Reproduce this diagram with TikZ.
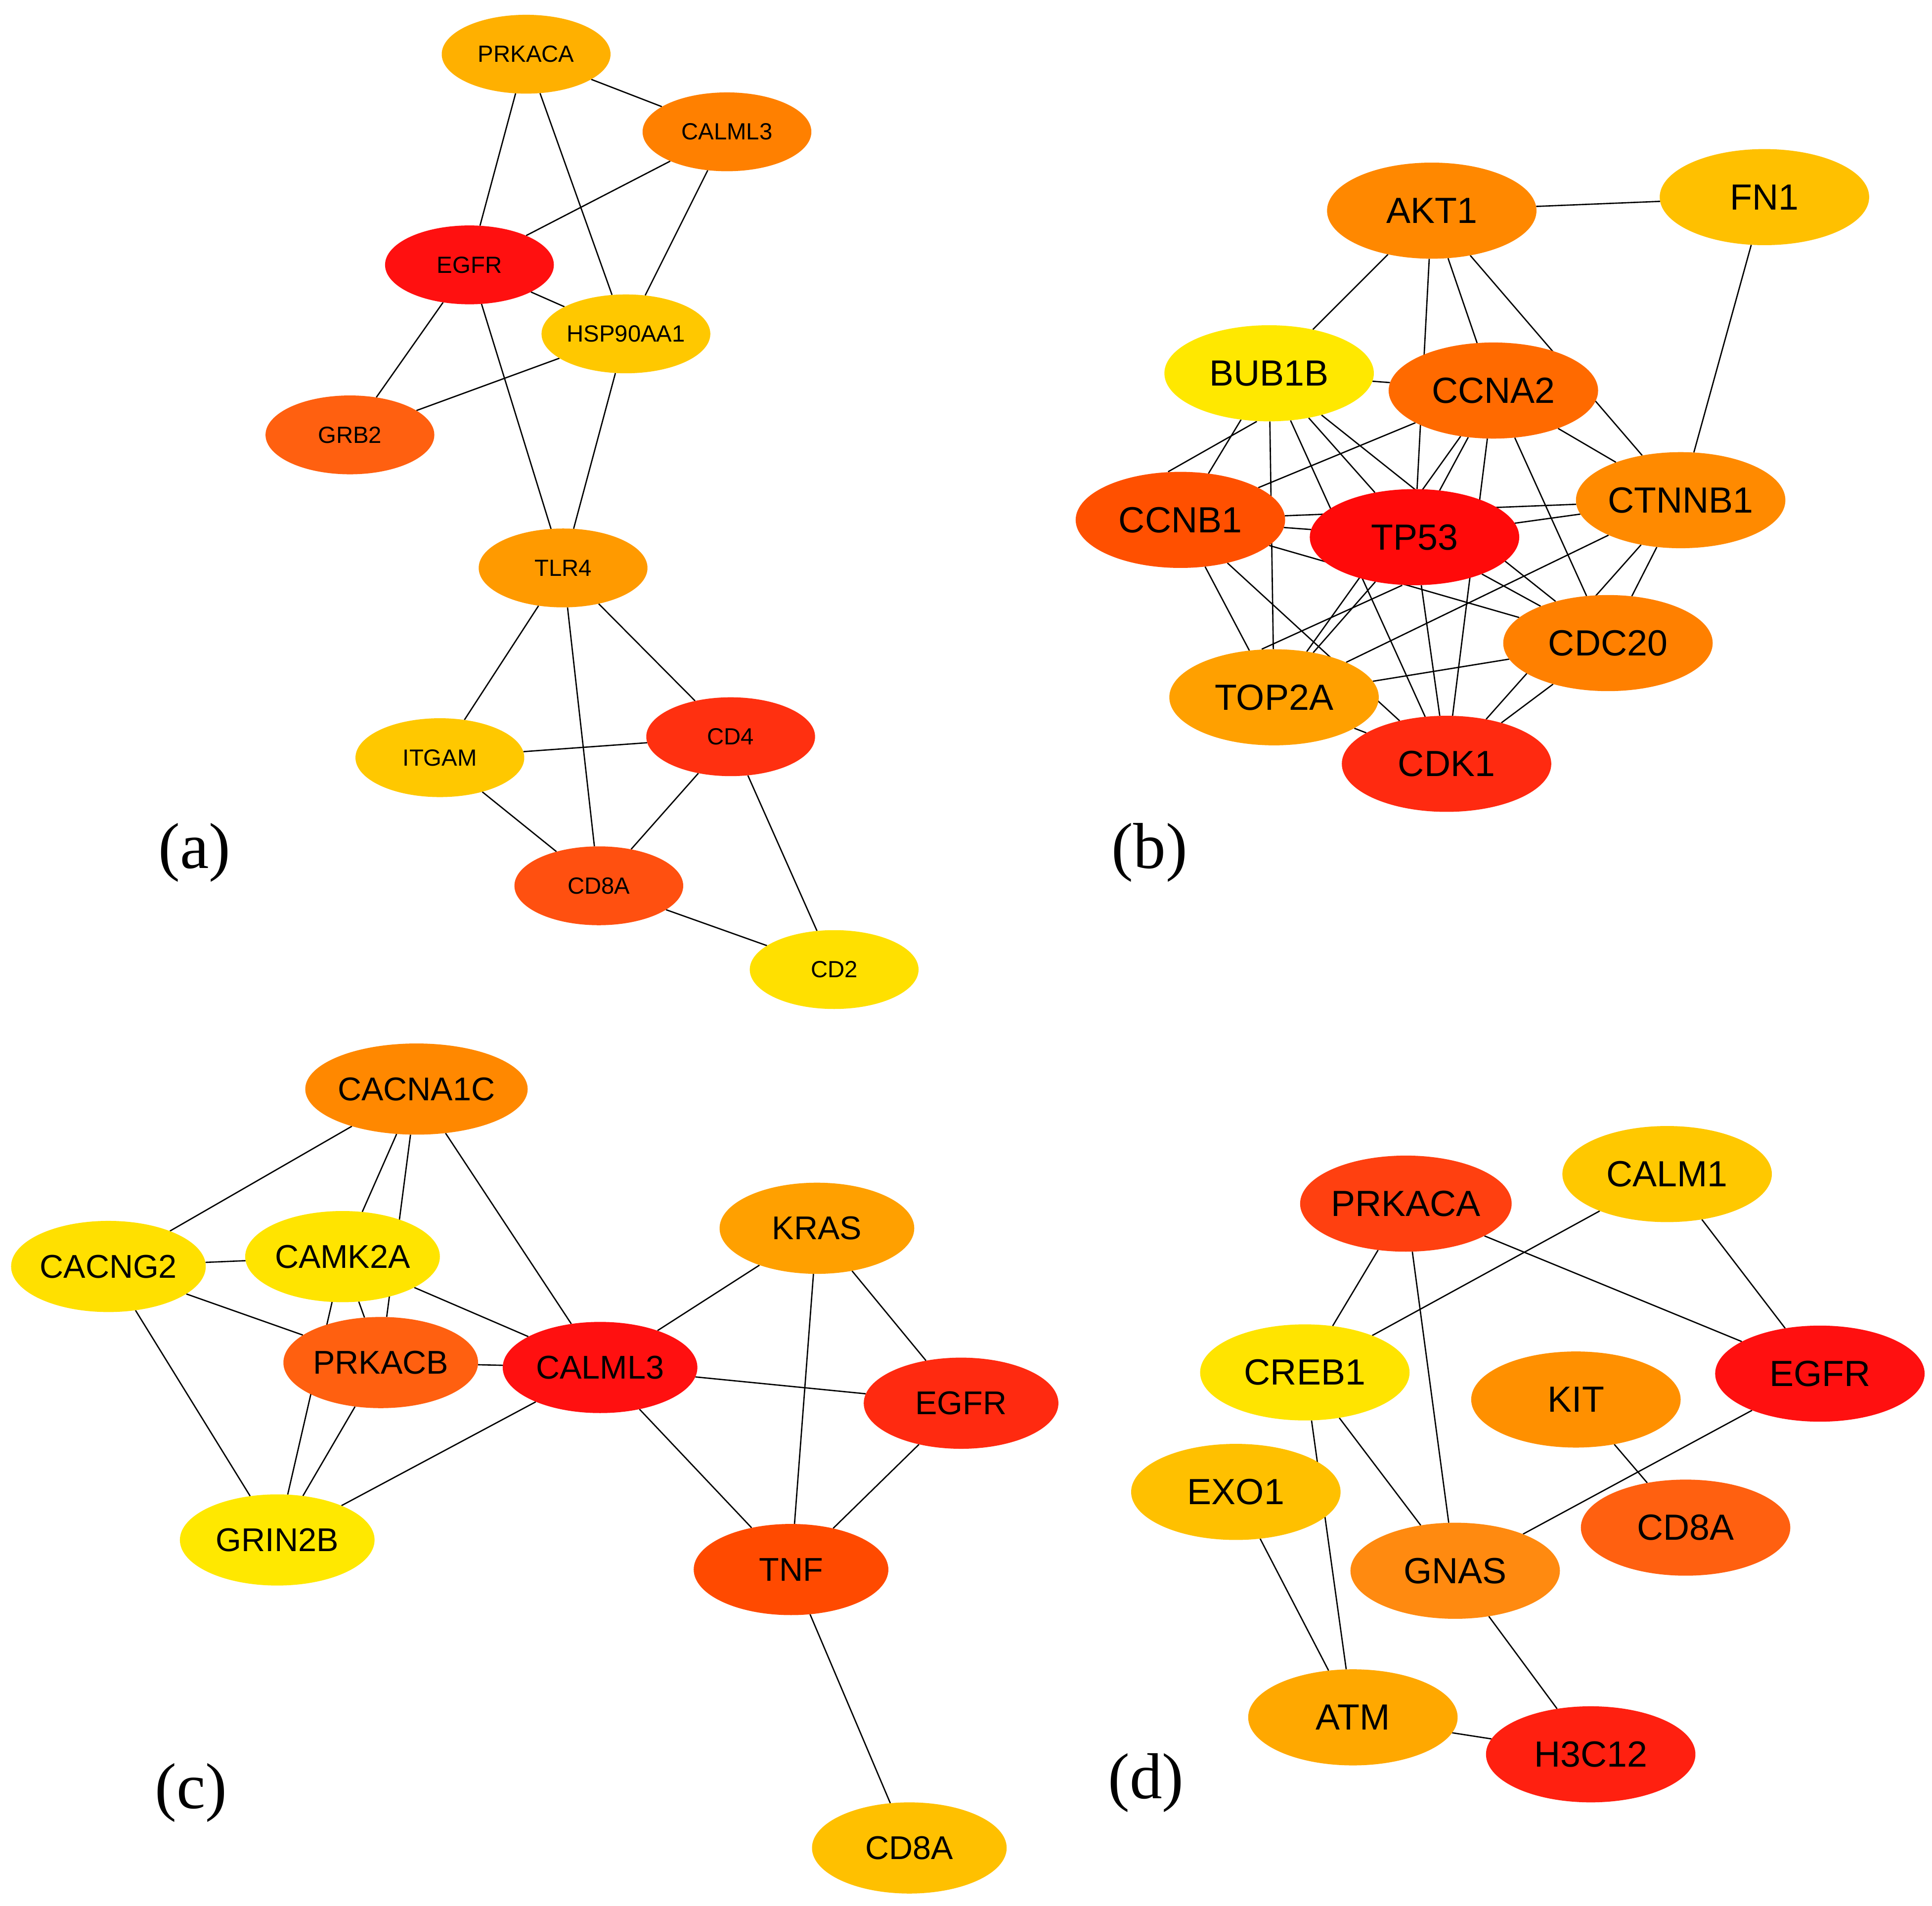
\documentclass[tikz,border=0pt]{standalone}
\usepackage{fontspec}
\setmainfont{Liberation Sans}
\newfontfamily\serifl{Liberation Serif}
\usetikzlibrary{shapes.geometric,backgrounds}
\begin{document}
\begin{tikzpicture}[x=0.1cm,y=-0.1cm,
 gcol/.style={/utils/exec={\definecolor{tmpc}{HTML}{#1}},fill=tmpc},
 ga/.style={ellipse,gcol=#1,inner sep=0pt,minimum width=13.7cm,minimum height=6.4cm,font=\fontsize{54}{62}\selectfont},
 gb/.style={ellipse,gcol=#1,inner sep=0pt,minimum width=17cm,minimum height=7.8cm,font=\fontsize{84}{96}\selectfont},
 gc/.style={ellipse,gcol=#1,inner sep=0pt,minimum width=15.8cm,minimum height=7.4cm,font=\fontsize{76}{88}\selectfont},
 lab/.style={font=\serifl\fontsize{150}{170}\selectfont},
 ed/.style={line width=3pt}]
% panel a
\node[ga=FFB000] (aPRKACA) at (427,44) {PRKACA};
\node[ga=FF8000] (aCALML3) at (590,107) {CALML3};
\node[ga=FF1010] (aEGFR) at (381,215) {EGFR};
\node[ga=FFC800] (aHSP) at (508,271) {HSP90AA1};
\node[ga=FF6010] (aGRB2) at (284,353) {GRB2};
\node[ga=FF9A00] (aTLR4) at (457,461) {TLR4};
\node[ga=FFC800] (aITGAM) at (357,615) {ITGAM};
\node[ga=FF3010] (aCD4) at (593,598) {CD4};
\node[ga=FF5010] (aCD8A) at (486,719) {CD8A};
\node[ga=FFE000] (aCD2) at (677,787) {CD2};
\node[lab] (la) at (158,692) {(a)};
% panel b
\node[gb=FF8800] (bAKT1) at (1162,171) {AKT1};
\node[gb=FFC000] (bFN1) at (1432,160) {FN1};
\node[gb=FFE800] (bBUB1B) at (1030,303) {BUB1B};
\node[gb=FF6A00] (bCCNA2) at (1212,317) {CCNA2};
\node[gb=FF5000] (bCCNB1) at (958,422) {CCNB1};
\node[gb=FF0A0A] (bTP53) at (1148,436) {TP53};
\node[gb=FF8A00] (bCTNNB1) at (1364,406) {CTNNB1};
\node[gb=FF8000] (bCDC20) at (1305,522) {CDC20};
\node[gb=FFA000] (bTOP2A) at (1034,566) {TOP2A};
\node[gb=FF2A10] (bCDK1) at (1174,620) {CDK1};
\node[lab] (lb) at (933,692) {(b)};
% panel c
\node[gc=FF8800] (cCACNA1C) at (338,884) {CACNA1C};
\node[gc=FFE000] (cCACNG2) at (88,1028) {CACNG2};
\node[gc=FFE400] (cCAMK2A) at (278,1020) {CAMK2A};
\node[gc=FFA000] (cKRAS) at (663,997) {KRAS};
\node[gc=FF6010] (cPRKACB) at (309,1106) {PRKACB};
\node[gc=FF1010] (cCALML3) at (487,1110) {CALML3};
\node[gc=FF2A10] (cEGFR) at (780,1139) {EGFR};
\node[gc=FFE800] (cGRIN2B) at (225,1250) {GRIN2B};
\node[gc=FF4A00] (cTNF) at (642,1274) {TNF};
\node[gc=FFC000] (cCD8A) at (738,1500) {CD8A};
\node[lab] (lc) at (155,1455) {(c)};
% panel d
\node[gb=FF4010] (dPRKACA) at (1141,977) {PRKACA};
\node[gb=FFC800] (dCALM1) at (1353,953) {CALM1};
\node[gb=FFE400] (dCREB1) at (1059,1114) {CREB1};
\node[gb=FF9000] (dKIT) at (1279,1136) {KIT};
\node[gb=FF1010] (dEGFR) at (1477,1115) {EGFR};
\node[gb=FFC000] (dEXO1) at (1003,1211) {EXO1};
\node[gb=FF6010] (dCD8A) at (1368,1240) {CD8A};
\node[gb=FF8A10] (dGNAS) at (1181,1275) {GNAS};
\node[gb=FFA800] (dATM) at (1098,1394) {ATM};
\node[gb=FF2010] (dH3C12) at (1291,1424) {H3C12};
\node[lab] (ld) at (930,1447) {(d)};
\begin{scope}[on background layer]
\fill[white] (0,0) rectangle (1568,1547);
\foreach \u/\v in {PRKACA/CALML3,PRKACA/EGFR,PRKACA/HSP,CALML3/EGFR,CALML3/HSP,EGFR/HSP,EGFR/GRB2,EGFR/TLR4,GRB2/HSP,HSP/TLR4,TLR4/ITGAM,TLR4/CD8A,TLR4/CD4,ITGAM/CD4,ITGAM/CD8A,CD4/CD8A,CD4/CD2,CD8A/CD2}
  \draw[ed] (a\u) -- (a\v);
\foreach \u/\v in {AKT1/FN1,AKT1/BUB1B,AKT1/TP53,AKT1/CCNA2,AKT1/CTNNB1,FN1/CTNNB1}
  \draw[ed] (b\u) -- (b\v);
\foreach \u [count=\i] in {BUB1B,CCNA2,CCNB1,TP53,CTNNB1,CDC20,TOP2A,CDK1}
  \foreach \v [count=\j] in {BUB1B,CCNA2,CCNB1,TP53,CTNNB1,CDC20,TOP2A,CDK1}
    {\ifnum\i<\j \ifnum\i=1 \ifnum\j=5 \else \draw[ed] (b\u) -- (b\v); \fi \else \draw[ed] (b\u) -- (b\v); \fi \fi}
\draw[ed] ([xshift=-1cm]bBUB1B.south) -- ([xshift=-1cm]bCCNB1.north);
\draw[ed] ([xshift=-1cm]bTP53.south) -- ([xshift=-1cm]bTOP2A.north);
\foreach \u/\v in {CACNA1C/CACNG2,CACNA1C/CAMK2A,CACNA1C/PRKACB,CACNA1C/CALML3,CACNG2/CAMK2A,CACNG2/PRKACB,CACNG2/GRIN2B,CAMK2A/PRKACB,CAMK2A/CALML3,CAMK2A/GRIN2B,PRKACB/CALML3,PRKACB/GRIN2B,CALML3/GRIN2B,CALML3/KRAS,CALML3/EGFR,CALML3/TNF,KRAS/TNF,KRAS/EGFR,EGFR/TNF,TNF/CD8A}
  \draw[ed] (c\u) -- (c\v);
\foreach \u/\v in {PRKACA/CREB1,PRKACA/GNAS,PRKACA/EGFR,CALM1/CREB1,CALM1/EGFR,CREB1/GNAS,CREB1/ATM,EGFR/GNAS,KIT/CD8A,EXO1/ATM,GNAS/H3C12,ATM/H3C12}
  \draw[ed] (d\u) -- (d\v);
\end{scope}
\end{tikzpicture}
\end{document}
